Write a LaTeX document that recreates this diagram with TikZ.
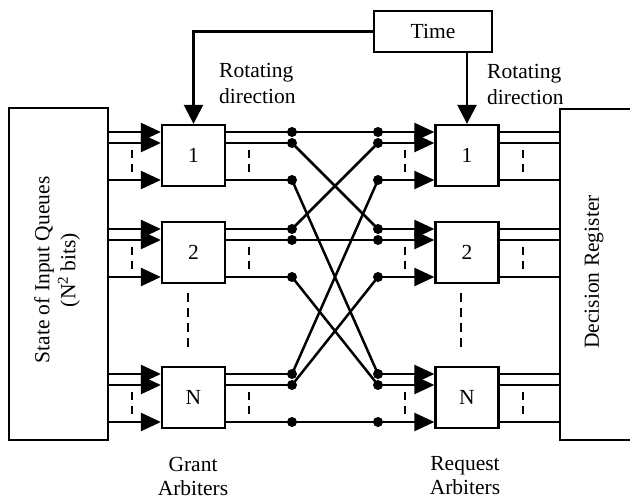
\documentclass[tikz,border=0pt]{standalone}
\usepackage{fontspec}
\setmainfont{Liberation Serif}
\usetikzlibrary{arrows.meta,positioning,calc}

\tikzset{
  block/.style={draw, line width=2.3pt, inner sep=0pt},
  arbiter/.style={block, minimum width=63pt, minimum height=61pt},
  wire/.style={line width=2.5pt},
  feed/.style={wire, -{Triangle[length=20pt,width=18pt]}},
  gap/.style={line width=2.5pt, dash pattern=on 8pt off 6pt},
  dot/.style={circle, fill, inner sep=0pt, minimum size=10pt},
  caption/.style={inner sep=0pt, align=center},
}

\begin{document}
\begin{tikzpicture}[x=1pt, y=-1pt, font=\fontsize{21.5}{26}\selectfont]
\clip (0,0) rectangle (630,500);
% Side blocks
\node[block, minimum width=99pt, minimum height=332pt] (queues) at (58.5,274) {};
\node[caption, rotate=90] (qtext) at (57,270) {State of Input Queues\\(N\textsuperscript{2} bits)};
\node[block, anchor=north west, minimum width=120pt, minimum height=331pt] (decision) at (559,108) {};
\node[caption, rotate=90] (dtext) at (594,272) {Decision Register};
% Arbiters
\foreach \k/\lab/\y in {1/1/155.5, 2/2/252.5, 3/N/397.5} {
  \node[arbiter] (g\k) at (193.5,\y) {\lab};
  \node[arbiter] (r\k) at (467,\y) {\lab};
}
% Rows in and out of each arbiter
\foreach \k/\ya/\yb/\yc in {1/132/143/180, 2/229/240/277, 3/374/385/422} {
  \foreach \j/\y in {1/\ya, 2/\yb, 3/\yc} {
    \node[dot] (go\k\j) at (292,\y) {};
    \node[dot] (ri\k\j) at (378,\y) {};
    \draw[feed] (queues.east |- go\k\j) -- (g\k.west |- go\k\j);
    \draw[wire] (g\k.east |- go\k\j) -- (go\k\j.center);
    \draw[feed] (ri\k\j.center) -- (r\k.west |- ri\k\j);
    \draw[wire] (r\k.east |- ri\k\j) -- (decision.west |- ri\k\j);
  }
  % skipped rows
  \foreach \x in {132,249,405,523}
    \draw[gap] (\x,\yb+7) -- (\x,\yc-5);
}
% Exchange between grant and request arbiters
\foreach \i in {1,2,3} {
  \foreach \j in {1,2,3}
    \draw[wire] (go\i\j.center) -- (ri\j\i.center);
}
% Skipped arbiters
\draw[gap, dash pattern=on 9pt off 6pt] (188,293) -- (188,348);
\draw[gap, dash pattern=on 9pt off 6pt] (461,293) -- (461,348);
% Time control
\node[block, minimum width=118pt, minimum height=41pt] (time) at (433,31.5) {Time};
\draw[wire, -{Triangle[length=19pt,width=19pt]}] (time.west) -| (g1.north);
\draw[wire, -{Triangle[length=19pt,width=19pt]}] (time.south -| r1.north) -- (r1.north);
\node[caption, align=left, anchor=west] (grot) at (219,83) {Rotating\\direction};
\node[caption, align=left, anchor=west] (rrot) at (487,84) {Rotating\\direction};
% Captions
\node[caption, font=\fontsize{21.5}{24}\selectfont] (gcap) at (193,476) {Grant\\Arbiters};
\node[caption, font=\fontsize{21.5}{24}\selectfont] (rcap) at (465,476) {Request\\Arbiters};
\end{tikzpicture}
\end{document}
